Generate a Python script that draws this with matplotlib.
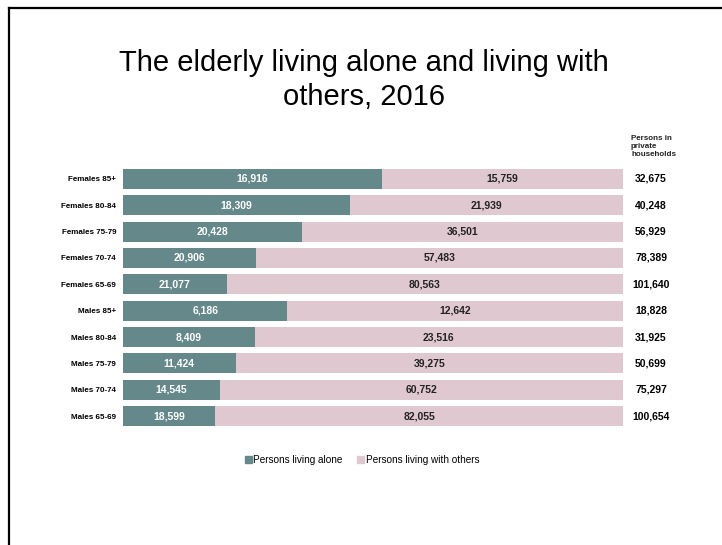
import matplotlib
matplotlib.use("Agg")
import matplotlib.pyplot as plt
from matplotlib.lines import Line2D
from matplotlib.patches import Patch

plt.rcParams['font.family'] = ['Liberation Sans', 'DejaVu Sans']

categories = ["Females 85+", "Females 80-84", "Females 75-79", "Females 70-74",
              "Females 65-69", "Males 85+", "Males 80-84", "Males 75-79",
              "Males 70-74", "Males 65-69"]
living_alone = [16916, 18309, 20428, 20906, 21077, 6186, 8409, 11424, 14545, 18599]
living_with_others = [15759, 21939, 36501, 57483, 80563, 12642, 23516, 39275, 60752, 82055]
total_households = [32675, 40248, 56929, 78389, 101640, 18828, 31925, 50699, 75297, 100654]

series_names = ["Persons living alone", "Persons living with others"]
column_header = "Persons in\nprivate\nhouseholds"
title = "The elderly living alone and living with\nothers, 2016"

c_alone = "#65888b"
c_others = "#e0c8d0"

W, H = 722, 545
fig = plt.figure(figsize=(W / 100, H / 100), dpi=100)
fig.patch.set_facecolor("white")

# slide frame (top and left edges)
fig.add_artist(Line2D([9 / W, 9 / W], [0, 1 - 7.5 / H], color="black", lw=1.6,
                      transform=fig.transFigure))
fig.add_artist(Line2D([9 / W, 1], [1 - 7.5 / H, 1 - 7.5 / H], color="black", lw=1.6,
                      transform=fig.transFigure))

fig.text(364 / W, 1 - 80 / H, title, ha="center", va="center", fontsize=21,
         linespacing=1.3, color="black")

# plot area in pixels
left, right = 123, 623
top, bottom = 165.8, 429.2
ax = fig.add_axes([left / W, 1 - bottom / H, (right - left) / W, (bottom - top) / H])

n = len(categories)
ys = list(range(n))
share_alone = [a / t * 100 for a, t in zip(living_alone, total_households)]
share_others = [o / t * 100 for o, t in zip(living_with_others, total_households)]

ax.barh(ys, share_alone, height=0.76, color=c_alone, label=series_names[0])
ax.barh(ys, share_others, left=share_alone, height=0.76, color=c_others,
        label=series_names[1])

for y, a, o, sa, so, t in zip(ys, living_alone, living_with_others,
                              share_alone, share_others, total_households):
    ax.text(sa / 2, y, f"{a:,}", ha="center", va="center", color="white",
            fontsize=7.5, fontweight="bold")
    ax.text(sa + so / 2, y, f"{o:,}", ha="center", va="center", color="#222222",
            fontsize=7.5, fontweight="bold")
    ax.text(105.6, y, f"{t:,}", ha="center", va="center", color="black",
            fontsize=7.5, fontweight="bold")

ax.text(101.6, -0.78, column_header, ha="left", va="bottom", fontsize=5.8,
        fontweight="bold", color="#222222", linespacing=1.2)

ax.set_xlim(0, 100)
ax.set_ylim(n - 0.5, -0.5)
ax.set_yticks(ys)
ax.set_yticklabels(categories, fontsize=5.8, fontweight="bold")
ax.tick_params(axis="y", length=0, pad=5)
ax.set_xticks([])
for s in ax.spines.values():
    s.set_visible(False)

handles = [Patch(color=c_alone), Patch(color=c_others)]
fig.legend(handles, series_names, loc="center", bbox_to_anchor=(362 / W, 1 - 460 / H),
           ncol=2, frameon=False, fontsize=7.2, handlelength=0.7, handleheight=0.7,
           handletextpad=0.15, columnspacing=1.5, borderaxespad=0)

fig.savefig("out.png", dpi=100, facecolor="white")
